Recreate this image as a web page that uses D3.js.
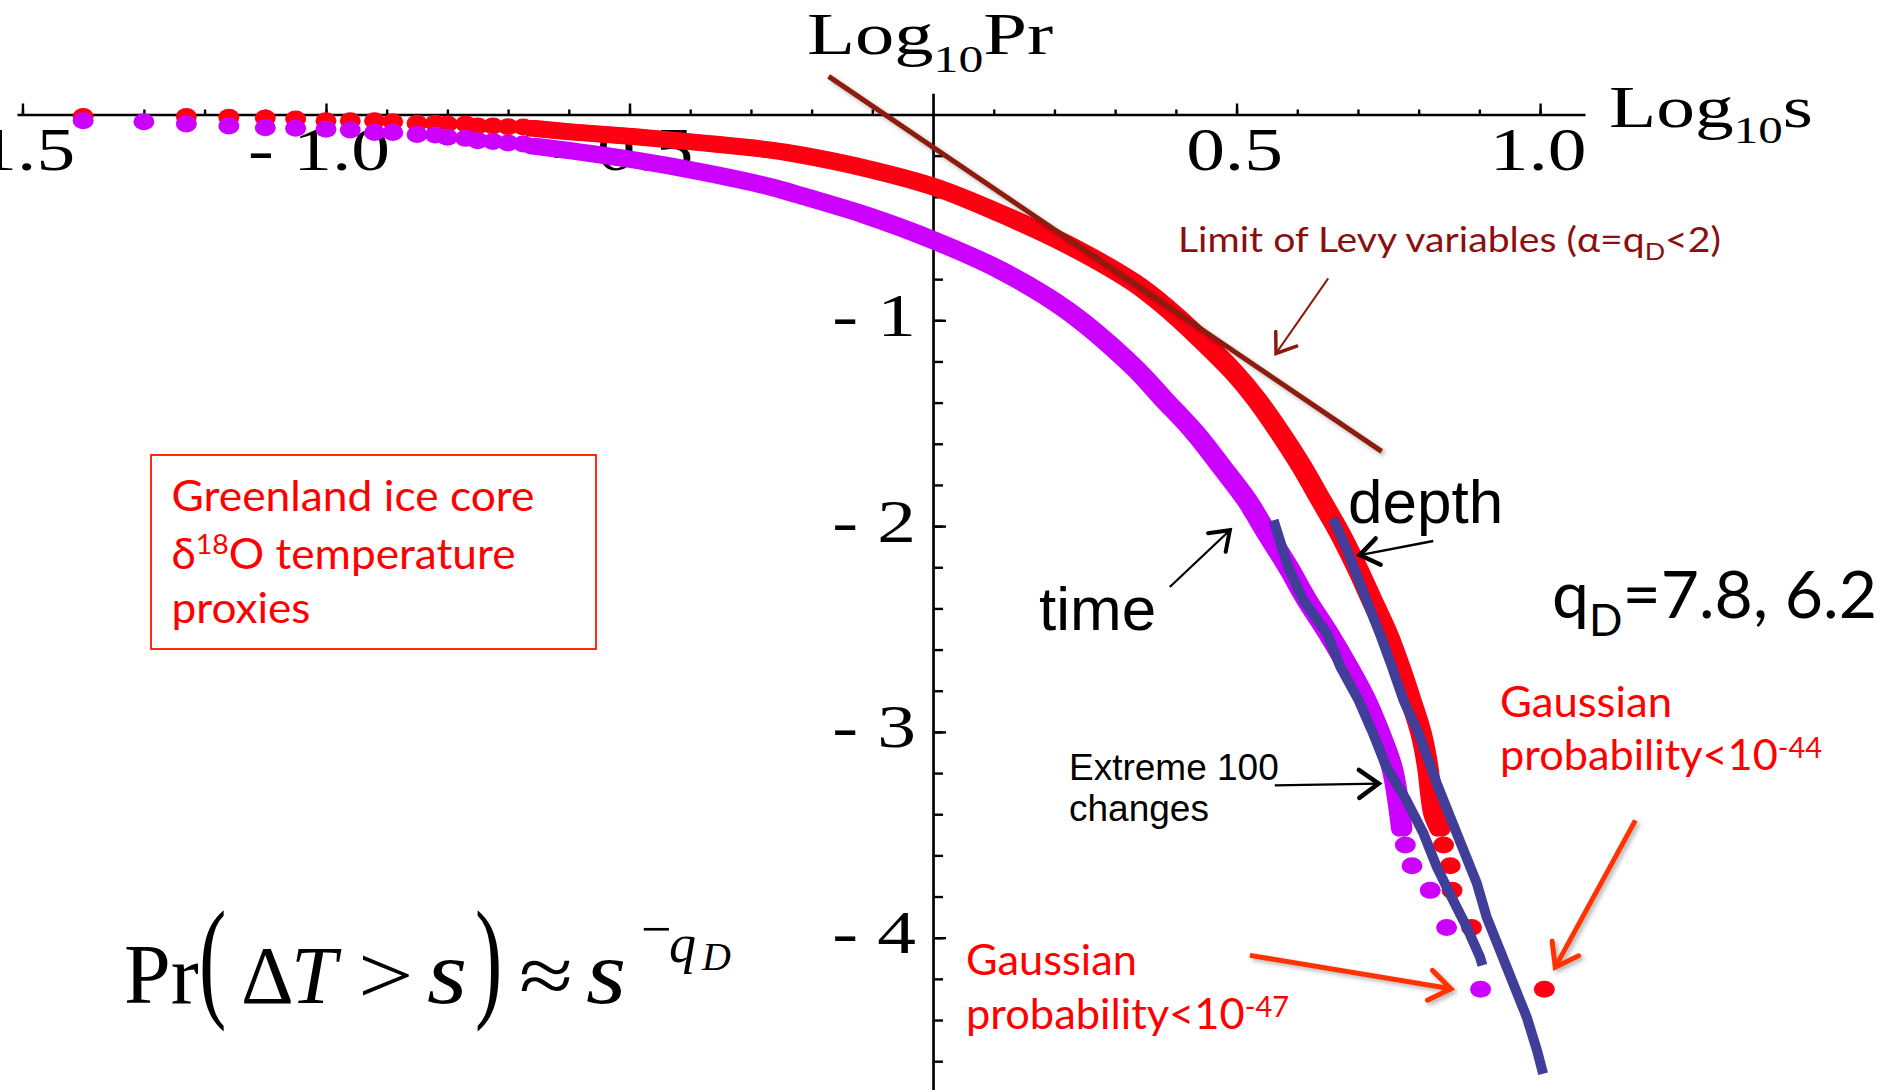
<!DOCTYPE html>
<html>
<head>
<meta charset="utf-8">
<script src="https://cdn.jsdelivr.net/npm/d3@7"></script>
<style>
  html, body { margin: 0; padding: 0; background: #fff; }
  svg { display: block; }
</style>
</head>
<body>
<svg id="chart" width="1894" height="1090"></svg>
<script>
// values, in log10 s (x) and log10 Pr (y)

// red series (depth): separate dots at the small-s end and in the far tail
const redDotLogS = [-1.40, -1.23, -1.16, -1.10, -1.05, -1.00, -0.96, -0.92, -0.89, -0.85, -0.82, -0.80, -0.77, -0.75, -0.725, -0.70, -0.675, 0.841, 0.852, 0.855, 0.887, 1.007]
const redDotLogP = [-0.01, -0.01, -0.013, -0.017, -0.022, -0.03, -0.03, -0.03, -0.035, -0.043, -0.043, -0.046, -0.046, -0.056, -0.056, -0.059, -0.061, -3.55, -3.65, -3.77, -3.95, -4.25]
// red series where the dots merge into a band
const redBandLogS = [-0.66, -0.60, -0.49, -0.38, -0.27, -0.22, -0.11, 0.00, 0.11, 0.22, 0.33, 0.385, 0.44, 0.495, 0.534, 0.572, 0.608, 0.639, 0.670, 0.698, 0.723, 0.748, 0.769, 0.787, 0.804, 0.815, 0.820, 0.825, 0.835]
const redBandLogP = [-0.067, -0.084, -0.108, -0.138, -0.172, -0.195, -0.262, -0.350, -0.480, -0.630, -0.815, -0.940, -1.088, -1.250, -1.388, -1.548, -1.714, -1.874, -2.034, -2.199, -2.360, -2.520, -2.686, -2.846, -3.007, -3.172, -3.299, -3.396, -3.469]

// purple series (time)
const purpleDotLogS = [-1.40, -1.30, -1.23, -1.16, -1.10, -1.05, -1.00, -0.96, -0.92, -0.89, -0.85, -0.82, -0.80, -0.77, -0.75, -0.725, -0.70, -0.675, 0.778, 0.789, 0.819, 0.846, 0.902]
const purpleDotLogP = [-0.03, -0.035, -0.046, -0.056, -0.064, -0.067, -0.072, -0.075, -0.087, -0.087, -0.097, -0.100, -0.111, -0.116, -0.127, -0.131, -0.138, -0.143, -3.55, -3.65, -3.77, -3.95, -4.25]
const purpleBandLogS = [-0.66, -0.60, -0.49, -0.38, -0.27, -0.22, -0.11, 0.00, 0.11, 0.22, 0.33, 0.379, 0.432, 0.476, 0.517, 0.550, 0.585, 0.616, 0.651, 0.684, 0.713, 0.736, 0.756, 0.766, 0.772]
const purpleBandLogP = [-0.153, -0.175, -0.222, -0.280, -0.350, -0.392, -0.490, -0.610, -0.755, -0.950, -1.225, -1.380, -1.548, -1.714, -1.874, -2.034, -2.199, -2.360, -2.520, -2.686, -2.846, -3.007, -3.172, -3.333, -3.469]

// extreme 100 changes (blue lines)
const extremeTimeLogS = [0.561, 0.585, 0.610, 0.649, 0.671, 0.701, 0.725, 0.747, 0.780, 0.808, 0.830, 0.857, 0.879, 0.901, 0.905]
const extremeTimeLogP = [-1.971, -2.198, -2.360, -2.522, -2.684, -2.846, -3.008, -3.171, -3.333, -3.494, -3.657, -3.819, -3.948, -4.094, -4.135]
const extremeDepthLogS = [0.659, 0.682, 0.714, 0.736, 0.756, 0.775, 0.800, 0.830, 0.852, 0.874, 0.896, 0.912, 0.934, 0.956, 0.978, 0.995, 1.005]
const extremeDepthLogP = [-1.963, -2.117, -2.360, -2.522, -2.684, -2.846, -3.008, -3.251, -3.414, -3.576, -3.737, -3.900, -4.062, -4.224, -4.386, -4.548, -4.661]

// Levy limit, slope -2
const levyLogS = [-0.172, 0.739]
const levyLogP = [0.185, -1.637]

// ticks
const xMinorTicks = [-1.5, -1.4, -1.3, -1.2, -1.1, -1.0, -0.9, -0.8, -0.7, -0.6, -0.5, -0.4, -0.3, -0.2, -0.1, 0.1, 0.2, 0.3, 0.4, 0.5, 0.6, 0.7, 0.8, 0.9, 1.0]
const xMajorTicks = [-1.5, -1.0, -0.5, 0.5, 1.0]
const xTickLabels = ["- 1.5", "- 1.0", "- 0.5", "0.5", "1.0"]
const yMinorTicks = [-0.2, -0.4, -0.6, -0.8, -1.0, -1.2, -1.4, -1.6, -1.8, -2.0, -2.2, -2.4, -2.6, -2.8, -3.0, -3.2, -3.4, -3.6, -3.8, -4.0, -4.2, -4.4, -4.6]
const yMajorTicks = [-1, -2, -3, -4]
const yTickLabels = ["- 1", "- 2", "- 3", "- 4"]

const width = 1894
const height = 1090

const colors = { red: "#ff0012", purple: "#cc00ff", blue: "#403e99", levy: "#8c1a0b", note: "#8a1010", gauss: "#ff3300" }

const x = d3.scaleLinear().domain([-1.509, 1.074]).range([17, 1585])
const y = d3.scaleLinear().domain([0.103, -4.74]).range([93.3, 1090])

const svg = d3.select("#chart")
svg.append("rect").attr("width", width).attr("height", height).attr("fill", "#fff")

const defs = svg.append("defs")
defs.append("filter").attr("id", "shadow").attr("x", "-20%").attr("y", "-20%").attr("width", "140%").attr("height", "140%")
  .append("feDropShadow").attr("dx", 2.5).attr("dy", 2.5).attr("stdDeviation", 2)
  .attr("flood-color", "#000").attr("flood-opacity", 0.3)

const zip = (a, b) => a.map((v, i) => [v, b[i]])

// ---- axes
const serif = "'Liberation Serif', 'Times New Roman', serif"
const sans = "'Liberation Sans', Arial, sans-serif"
const calibri = "Lato, 'Noto Sans', sans-serif"

const xAxisG = svg.append("g").attr("transform", `translate(0,${y(0)})`)
xAxisG.append("g")
  .call(d3.axisBottom(x).tickValues(xMinorTicks).tickSizeInner(-5).tickSizeOuter(0).tickFormat(""))
xAxisG.append("g")
  .call(d3.axisBottom(x).tickValues(xMajorTicks).tickSizeInner(-11).tickSizeOuter(0)
    .tickFormat((d, i) => xTickLabels[i]))
  .call(g => g.select(".domain").remove())
xAxisG.selectAll("text")
  .attr("x", d => d < -1.2 ? -15 : d < 0 ? -6 : -2)
  .attr("y", 55).attr("dy", null)
  .attr("font-size", 62).attr("font-family", serif).attr("fill", "#000")
  .attr("transform", "scale(1.25,1)")

const yAxisG = svg.append("g").attr("transform", `translate(${x(0)},0)`)
yAxisG.append("g")
  .call(d3.axisLeft(y).tickValues(yMinorTicks).tickSizeInner(-10).tickSizeOuter(0).tickFormat(""))
yAxisG.append("g")
  .call(d3.axisLeft(y).tickValues(yMajorTicks).tickSizeInner(-13).tickSizeOuter(0)
    .tickFormat((d, i) => yTickLabels[i]))
  .call(g => g.select(".domain").remove())
yAxisG.selectAll("text")
  .attr("x", -13.6).attr("y", 15).attr("dy", null)
  .attr("font-size", 62).attr("font-family", serif).attr("fill", "#000")
  .attr("transform", "scale(1.25,1)")

svg.selectAll(".domain").attr("stroke", "#000").attr("stroke-width", 2.7)
svg.selectAll(".tick line").attr("stroke", "#000").attr("stroke-width", 2.4)

// axis titles
const logPr = svg.append("text").attr("font-family", serif).attr("font-size", 60).attr("fill", "#000")
  .attr("transform", "translate(807,54) scale(1.31,1)")
logPr.append("tspan").text("Log")
logPr.append("tspan").attr("font-size", 38).attr("dy", 18).text("10")
logPr.append("tspan").attr("dy", -18).text("Pr")

const logS = svg.append("text").attr("font-family", serif).attr("font-size", 60).attr("fill", "#000")
  .attr("transform", "translate(1609,127) scale(1.29,1)")
logS.append("tspan").text("Log")
logS.append("tspan").attr("font-size", 38).attr("dy", 16).text("10")
logS.append("tspan").attr("dy", -16).text("s")

// ---- series
const line = d3.line().x(d => x(d[0])).y(d => y(d[1])).curve(d3.curveCatmullRom)

function drawSeries(bandS, bandP, dotS, dotP, color){
  // the plotted dots are wider than tall, so the band is drawn twice, nudged sideways
  for (const dx of [-2.5, 2.5]){
    svg.append("path")
      .datum(zip(bandS, bandP))
      .attr("d", line)
      .attr("transform", `translate(${dx},0)`)
      .attr("fill", "none")
      .attr("stroke", color)
      .attr("stroke-width", 16.5)
      .attr("stroke-linecap", "round")
      .attr("stroke-linejoin", "round")
  }
  svg.append("g").selectAll("ellipse")
    .data(zip(dotS, dotP))
    .join("ellipse")
    .attr("cx", d => x(d[0]))
    .attr("cy", d => y(d[1]))
    .attr("rx", 10.5)
    .attr("ry", 8.5)
    .attr("fill", color)
}

drawSeries(redBandLogS, redBandLogP, redDotLogS, redDotLogP, colors.red)
drawSeries(purpleBandLogS, purpleBandLogP, purpleDotLogS, purpleDotLogP, colors.purple)

const straight = d3.line().x(d => x(d[0])).y(d => y(d[1]))
for (const [s, p] of [[extremeTimeLogS, extremeTimeLogP], [extremeDepthLogS, extremeDepthLogP]]){
  svg.append("path")
    .datum(zip(s, p))
    .attr("d", straight)
    .attr("fill", "none")
    .attr("stroke", colors.blue)
    .attr("stroke-width", 10)
    .attr("stroke-linejoin", "round")
}

svg.append("path")
  .datum(zip(levyLogS, levyLogP))
  .attr("d", straight)
  .attr("stroke", colors.levy)
  .attr("stroke-width", 5)
  .attr("filter", "url(#shadow)")

// ---- annotation arrows (data coordinates)
function arrow(from, to, color, shaft, headWidth, len, shadow){
  const x1 = x(from[0]), y1 = y(from[1]), x2 = x(to[0]), y2 = y(to[1])
  const ang = Math.atan2(y2 - y1, x2 - x1)
  const spread = 0.62
  const h1 = [x2 - len * Math.cos(ang - spread), y2 - len * Math.sin(ang - spread)]
  const h2 = [x2 - len * Math.cos(ang + spread), y2 - len * Math.sin(ang + spread)]
  const g = svg.append("g")
  if (shadow){ g.attr("filter", "url(#shadow)") }
  g.append("line").attr("x1", x1).attr("y1", y1).attr("x2", x2).attr("y2", y2)
    .attr("stroke", color).attr("stroke-width", shaft)
  g.append("path").attr("d", `M${h1}L${x2},${y2}L${h2}`)
    .attr("fill", "none").attr("stroke", color).attr("stroke-width", headWidth)
    .attr("stroke-linejoin", "miter").attr("stroke-linecap", "round")
}

arrow([0.651, -0.796], [0.565, -1.161], colors.levy, 2, 3.5, 22, false)
arrow([0.390, -2.296], [0.489, -2.020], "#000", 2.2, 4, 22, false)
arrow([0.824, -2.072], [0.703, -2.141], "#000", 2.5, 4.5, 23, false)
arrow([0.563, -3.260], [0.734, -3.251], "#000", 2.2, 4.5, 24, false)
arrow([1.157, -3.430], [1.025, -4.143], colors.gauss, 5, 5, 26, true)
arrow([0.522, -4.086], [0.853, -4.248], colors.gauss, 5, 5, 26, true)

// ---- text annotations
function label(xp, yp, parts, opts){
  const t = svg.append("text")
    .attr("x", xp).attr("y", yp)
    .attr("font-family", opts.font)
    .attr("font-size", opts.size)
    .attr("fill", opts.color)
  if (opts.length){ t.attr("textLength", opts.length).attr("lengthAdjust", "spacingAndGlyphs") }
  let shift = 0
  for (const p of parts){
    const ts = t.append("tspan").text(p.text)
    const dy = (p.dy || 0) - shift
    if (dy) ts.attr("dy", dy)
    shift = p.dy || 0
    if (p.size) ts.attr("font-size", p.size)
  }
  return t
}

label(1178, 252, [{text: "Limit of Levy variables (α=q"}, {text: "D", size: 24, dy: 8}, {text: "<2)"}],
  {font: calibri, size: 35, color: colors.note, length: 543})

svg.append("rect").attr("x", 151).attr("y", 455).attr("width", 445).attr("height", 194)
  .attr("fill", "none").attr("stroke", "#ff2a10").attr("stroke-width", 2)
label(171.5, 511, [{text: "Greenland ice core"}], {font: calibri, size: 42, color: "#ff0000", length: 363})
label(171.5, 569, [{text: "δ"}, {text: "18", size: 27, dy: -15}, {text: "O temperature"}], {font: calibri, size: 42, color: "#ff0000", length: 344})
label(171.5, 623, [{text: "proxies"}], {font: calibri, size: 42, color: "#ff0000", length: 139})

label(1552, 618, [{text: "q"}, {text: "D", size: 44, dy: 18}, {text: "=7.8, 6.2"}], {font: calibri, size: 66, color: "#000", length: 325})

label(1500, 717, [{text: "Gaussian"}], {font: calibri, size: 42, color: "#ff0000", length: 172})
label(1500, 770, [{text: "probability<10"}, {text: "-44", size: 28, dy: -12}], {font: calibri, size: 42, color: "#ff0000", length: 322})
label(966, 975, [{text: "Gaussian"}], {font: calibri, size: 42, color: "#ff0000", length: 171})
label(966, 1029, [{text: "probability<10"}, {text: "-47", size: 28, dy: -12}], {font: calibri, size: 42, color: "#ff0000", length: 323})

label(1348, 523, [{text: "depth"}], {font: sans, size: 62, color: "#000"})
label(1039, 630, [{text: "time"}], {font: sans, size: 62, color: "#000"})
label(1069, 780, [{text: "Extreme 100"}], {font: sans, size: 37, color: "#000"})
label(1069, 821, [{text: "changes"}], {font: sans, size: 37, color: "#000"})

// ---- formula Pr(ΔT > s) ≈ s^(-q_D)
const formula = svg.append("g").attr("font-family", serif).attr("fill", "#000")
const fpart = (xp, yp, txt, size, italic, sx) => formula.append("text")
  .attr("font-size", size)
  .attr("transform", `translate(${xp},${yp}) scale(${sx || 1},1)`)
  .attr("font-style", italic ? "italic" : "normal").text(txt)
fpart(124, 1003, "Pr", 84, false)
formula.append("text").attr("font-size", 82).attr("transform", "translate(199,1003) scale(1,1.62)").text("(")
fpart(241, 1003, "Δ", 82, false)
fpart(291, 1003, "T", 82, true)
fpart(358, 1003, ">", 82, false, 1.2)
fpart(427, 1003, "s", 90, true, 1.15)
formula.append("text").attr("font-size", 82).attr("transform", "translate(475,1003) scale(1,1.62)").text(")")
fpart(519, 1003, "≈", 82, false, 1.2)
fpart(586, 1003, "s", 90, true, 1.15)
fpart(641, 947, "−", 54, false)
fpart(669, 962, "q", 54, true)
fpart(702, 970, "D", 40, true)
</script>
</body>
</html>
